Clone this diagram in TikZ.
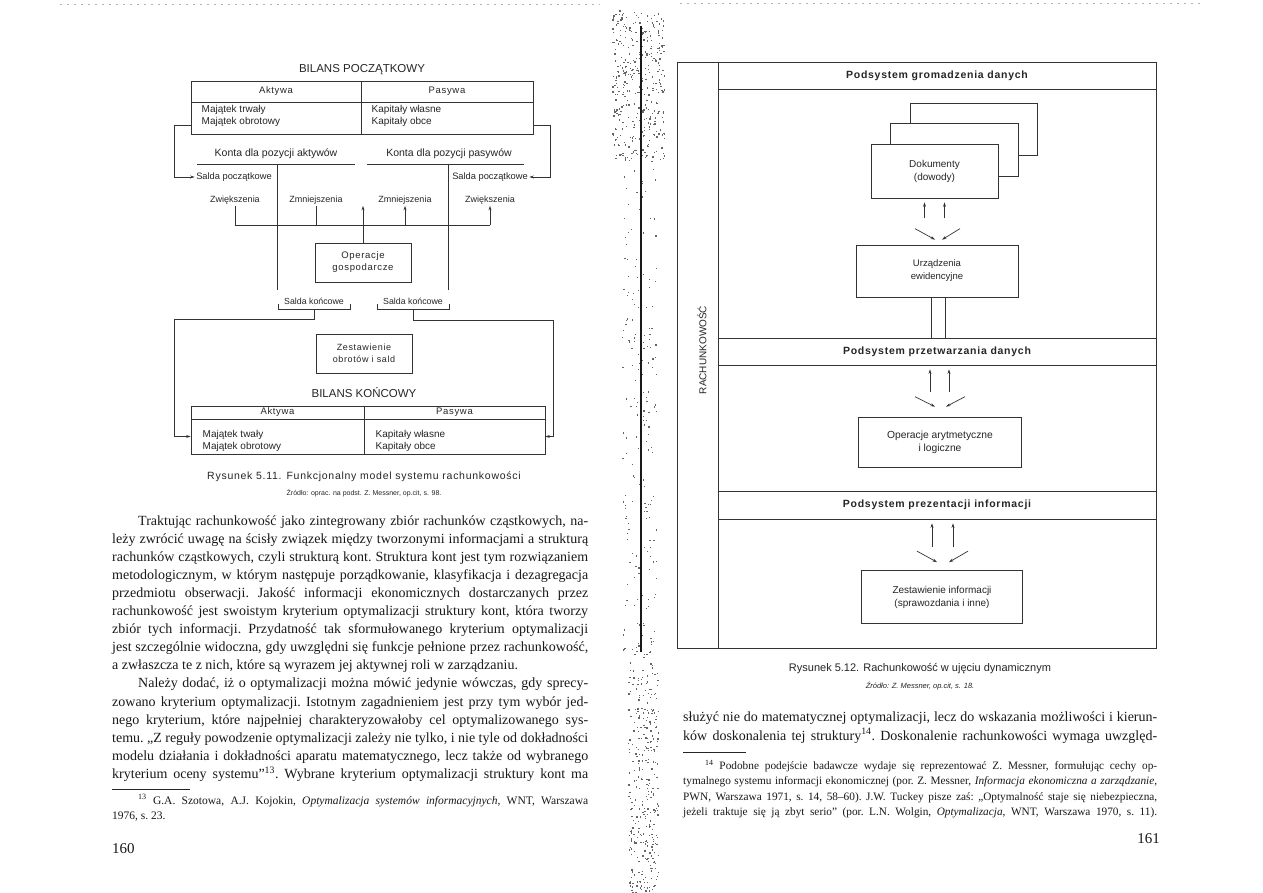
\documentclass[tikz,border=0pt]{standalone}
\usepackage{fontspec}
\setmainfont{Liberation Serif}
\setsansfont{Liberation Sans}
\newfontfamily\spc[LetterSpace=7]{Liberation Sans}
\usetikzlibrary{arrows.meta,calc}
\newcommand\fs[2]{\fontsize{#1}{#2}\selectfont}
\newcommand\JL[1]{\hbox to \hsize{#1}}
\newcommand\LL[1]{\hbox{#1}}
\newcommand\bodyset[2]{\fs{#1}{#2}\frenchspacing\lineskiplimit=-100pt\lineskip=0pt\spaceskip=.25em plus .25em minus .14em\relax}
\tikzset{
  ln/.style={line width=0.7pt, draw=black!80},
  arr/.style={-{Stealth[length=4.5pt,width=3pt]}},
  dt/.style={font=\sffamily\fs{10}{12.5}, text=black!85, inner sep=1.5pt},
  st/.style={font=\sffamily\fs{9}{10}, text=black!85, inner sep=1.5pt},
  hd/.style={font=\spc\fs{9.5}{11}, text=black!85, inner sep=0pt},
  cell/.style={draw=black!80, line width=0.7pt, inner sep=0pt},
  box/.style={draw=black!80, line width=0.7pt, fill=white, align=center, inner sep=0pt, text=black!85},
  band/.style={draw=black!80, line width=0.7pt, minimum width=438, inner sep=0pt, font=\spc\bfseries\fs{10.5}{12}, text=black!85},
  ttl/.style={font=\sffamily\fs{11.5}{13}, text=black!85, inner sep=0pt},
  txt/.style={inner sep=0pt, anchor=base west, text=black!90},
  dot/.style={fill=black!60},
}
\begin{document}
\begin{tikzpicture}[x=1pt,y=-1pt]
\useasboundingbox (0,0) rectangle (1263,893);
\fill[white] (0,0) rectangle (1263,893);

% ---------- scan gutter ----------
\pgfmathsetseed{42}
\foreach \k in {1,...,360}{\pgfmathsetmacro\px{612+52*rnd}\pgfmathsetmacro\py{10+150*rnd}\fill[dot] (\px,\py) rectangle ++(1.3,1.3);}
\foreach \k in {1,...,200}{\pgfmathsetmacro\px{622+34*rnd}\pgfmathsetmacro\py{150+500*rnd}\fill[dot] (\px,\py) rectangle ++(1.2,1.2);}
\foreach \k in {1,...,330}{\pgfmathsetmacro\px{628+30*rnd}\pgfmathsetmacro\py{650+243*rnd}\fill[dot] (\px,\py) rectangle ++(1.3,1.3);}
\draw[line width=2.4pt, black!90] (641,26) -- (641,652);
\draw[black!30, dash pattern=on 2pt off 5pt] (60,4) -- (600,4);
\draw[black!30, dash pattern=on 2pt off 5pt] (680,3) -- (1200,3);

% ---------- left diagram ----------
\node[ttl] (tA) at (362,70) {BILANS POCZĄTKOWY};
\node[cell, minimum width=170, minimum height=21, hd] (bpAh) at (276,91.5) {Aktywa};
\node[cell, minimum width=172, minimum height=21, hd] (bpPh) at (447,91.5) {Pasywa};
\node[cell, minimum width=170, minimum height=32] (bpAb) at (276,118) {};
\node[cell, minimum width=172, minimum height=32] (bpPb) at (447,118) {};
\node[dt, anchor=west, align=left] (bpAt) at (200,116) {Majątek trwały\\Majątek obrotowy};
\node[dt, anchor=west, align=left] (bpPt) at (370,116) {Kapitały własne\\Kapitały obce};

\node[dt, font=\sffamily\fs{10.5}{12}] (kA) at (276,154) {Konta dla pozycji aktywów};
\node[dt, font=\sffamily\fs{10.5}{12}] (kP) at (449,154) {Konta dla pozycji pasywów};
\draw[ln] (197,164) -- (355,164);
\draw[ln] (277,164) -- (277,290);
\draw[ln] (367,164) -- (524,164);
\draw[ln] (448,164) -- (448,290);

\node[st, font=\sffamily\fs{9.3}{10}] (sp1) at (234,177) {Salda początkowe};
\node[st, font=\sffamily\fs{9.3}{10}] (sp2) at (490,177) {Salda początkowe};
\draw[ln,arr] ($(bpAb.west)+(0,7)$) -- ++(-16,0) |- (sp1.west);
\draw[ln,arr] ($(bpPb.east)+(0,7)$) -- ++(17,0) |- (sp2.east);

\node[st] (z1) at (235,200) {Zwiększenia};
\node[st] (m1) at (316,200) {Zmniejszenia};
\node[st] (m2) at (405,200) {Zmniejszenia};
\node[st] (z2) at (490,200) {Zwiększenia};
\coordinate (br) at (0,225);
\draw[ln] (z1.south) -- (z1.south |- br) -- (z2.south |- br);
\draw[ln] (m1.south) -- (m1.south |- br);
\draw[ln,arr] (m2.south |- br) -- (m2.south);
\draw[ln,arr] (z2.south |- br) -- (z2.south);

\node[box, minimum width=96, minimum height=39, font=\spc\fs{9.5}{12}] (op) at (363,262.5) {Operacje\\gospodarcze};
\draw[ln,arr] (op.north) -- (op.north |- z1.south);

\node[st, font=\sffamily\fs{8.8}{10}] (sk1) at (314,301) {Salda końcowe};
\node[st, font=\sffamily\fs{8.8}{10}] (sk2) at (413,301) {Salda końcowe};
\draw[ln] (278,304) -- (278,309) -- (350,309) -- (350,304);
\draw[ln] (377,304) -- (377,309) -- (449,309) -- (449,304);

\node[box, minimum width=96, minimum height=39, font=\spc\fs{9}{12}] (zob) at (364,353.5) {Zestawienie\\obrotów i sald};
\node[ttl] (tB) at (364,393) {BILANS KOŃCOWY};
\node[cell, minimum width=173, minimum height=13, hd] (bkAh) at (277.5,412.5) {Aktywa};
\node[cell, minimum width=181, minimum height=13, hd] (bkPh) at (454.5,412.5) {Pasywa};
\node[cell, minimum width=173, minimum height=35] (bkAb) at (277.5,436.5) {};
\node[cell, minimum width=181, minimum height=35] (bkPb) at (454.5,436.5) {};
\node[dt, anchor=west, align=left] (bkAt) at (201,441) {Majątek twały\\Majątek obrotowy};
\node[dt, anchor=west, align=left] (bkPt) at (374,441) {Kapitały własne\\Kapitały obce};
\draw[ln,arr] (sk1.south |- 0,309) |- (174,319) |- (bkAb.west);
\draw[ln,arr] (sk2.south |- 0,309) |- (553,320) |- (bkPb.east);

\node[inner sep=0pt, font=\spc\fs{10.5}{12}, text=black!85] (cap1) at (364,477) {Rysunek 5.11. Funkcjonalny model systemu rachunkowości};
\node[inner sep=0pt, font=\sffamily\fs{7}{9}, text=black!85] (src1) at (364,493) {Źródło: oprac. na podst. Z. Messner, op.cit, s. 98.};

% ---------- left page text ----------
\node[txt] (lp) at (112,525) {\vtop{\hsize=476pt\bodyset{14}{18.1}%
\JL{\hskip 26pt Traktując rachunkowość jako zintegrowany zbiór rachunków cząstkowych, na-}
\JL{leży zwrócić uwagę na ścisły związek między tworzonymi informacjami a strukturą}
\JL{rachunków cząstkowych, czyli strukturą kont. Struktura kont jest tym rozwiązaniem}
\JL{metodologicznym, w którym następuje porządkowanie, klasyfikacja i dezagregacja}
\JL{przedmiotu obserwacji. Jakość informacji ekonomicznych dostarczanych przez}
\JL{rachunkowość jest swoistym kryterium optymalizacji struktury kont, która tworzy}
\JL{zbiór tych informacji. Przydatność tak sformułowanego kryterium optymalizacji}
\JL{jest szczególnie widoczna, gdy uwzględni się funkcje pełnione przez rachunkowość,}
\LL{a zwłaszcza te z nich, które są wyrazem jej aktywnej roli w zarządzaniu.}
\JL{\hskip 26pt Należy dodać, iż o optymalizacji można mówić jedynie wówczas, gdy sprecy-}
\JL{zowano kryterium optymalizacji. Istotnym zagadnieniem jest przy tym wybór jed-}
\JL{nego kryterium, które najpełniej charakteryzowałoby cel optymalizowanego sys-}
\JL{temu. „Z reguły powodzenie optymalizacji zależy nie tylko, i nie tyle od dokładności}
\JL{modelu działania i dokładności aparatu matematycznego, lecz także od wybranego}
\JL{kryterium oceny systemu”\textsuperscript{13}. Wybrane kryterium optymalizacji struktury kont ma}}};
\draw[line width=0.5pt, black!85] (112,789) -- (190,789);
\node[txt] (fn13) at (112,804) {\vtop{\hsize=476pt\bodyset{11.5}{15.5}%
\JL{\hskip 26pt\textsuperscript{13} G.A. Szotowa, A.J. Kojokin, \textit{Optymalizacja systemów informacyjnych}, WNT, Warszawa}
\LL{1976, s. 23.}}};
\node[txt, font=\fs{15}{18}] (pn160) at (112,853) {160};

% ---------- right diagram ----------
\node[draw=black!80, line width=0.7pt, minimum width=479, minimum height=586, inner sep=0pt] (frame) at (916.5,355) {};
\draw[ln] (718,62) -- (718,648);
\node[rotate=90, inner sep=0pt, font=\sffamily\fs{10}{12}, text=black!85] (rach) at (702,350) {RACHUNKOWOŚĆ};
\node[band, minimum height=27] (b1) at (937,75.5) {Podsystem gromadzenia danych};
\node[band, minimum height=27] (b2) at (937,351.5) {Podsystem przetwarzania danych};
\node[band, minimum height=28] (b3) at (937,505) {Podsystem prezentacji informacji};

\node[box, minimum width=127, minimum height=52] (dk3) at (973.5,129) {};
\node[box, minimum width=128, minimum height=53] (dk2) at (954,149.5) {};
\node[box, minimum width=127, minimum height=54, font=\sffamily\fs{10}{13}] (dk1) at (934.5,171) {Dokumenty\\(dowody)};
\node[box, minimum width=162, minimum height=52, font=\sffamily\fs{9.5}{13}] (ur) at (937,271) {Urządzenia\\ewidencyjne};
\node[box, minimum width=163, minimum height=50, font=\sffamily\fs{10.3}{13}] (op2) at (940,442) {Operacje arytmetyczne\\i logiczne};
\node[box, minimum width=161, minimum height=53, font=\sffamily\fs{10}{13}] (zi) at (942,597) {Zestawienie informacji\\(sprawozdania i inne)};

% arrows set 1
\draw[ln,arr] ($(dk1.south)+(-10,20)$) -- ($(dk1.south)+(-10,4)$);
\draw[ln,arr] ($(dk1.south)+(10,20)$) -- ($(dk1.south)+(10,4)$);
\draw[ln,arr] ($(ur.north)+(-22,-16)$) -- ($(ur.north)+(-2,-5)$);
\draw[ln,arr] ($(ur.north)+(23,-16)$) -- ($(ur.north)+(5,-5)$);
% link to band 2
\draw[ln] ($(ur.south)+(-6,0)$) -- ($(b2.north)+(-6,0)$);
\draw[ln] ($(ur.south)+(8,0)$) -- ($(b2.north)+(8,0)$);
% arrows set 2
\draw[ln,arr] ($(b2.south)+(-7,27)$) -- ($(b2.south)+(-7,4)$);
\draw[ln,arr] ($(b2.south)+(12,27)$) -- ($(b2.south)+(12,4)$);
\draw[ln,arr] ($(op2.north)+(-25,-20)$) -- ($(op2.north)+(-5,-10)$);
\draw[ln,arr] ($(op2.north)+(25,-20)$) -- ($(op2.north)+(6,-10)$);
% arrows set 3
\draw[ln,arr] ($(b3.south)+(-5,28)$) -- ($(b3.south)+(-5,4)$);
\draw[ln,arr] ($(b3.south)+(16,28)$) -- ($(b3.south)+(16,4)$);
\draw[ln,arr] ($(zi.north)+(-25,-19)$) -- ($(zi.north)+(-5,-8)$);
\draw[ln,arr] ($(zi.north)+(26,-19)$) -- ($(zi.north)+(7,-8)$);

\node[inner sep=0pt, font=\sffamily\fs{11}{13}, text=black!85] (cap2) at (920,669) {Rysunek 5.12. Rachunkowość w ujęciu dynamicznym};
\node[inner sep=0pt, font=\sffamily\itshape\fs{7.5}{9}, text=black!85] (src2) at (920,686) {Źródło: Z. Messner, op.cit, s. 18.};

% ---------- right page text ----------
\node[txt] (rp) at (683,721) {\vtop{\hsize=474pt\bodyset{14}{19}%
\JL{służyć nie do matematycznej optymalizacji, lecz do wskazania możliwości i kierun-}
\JL{ków doskonalenia tej struktury\textsuperscript{14}. Doskonalenie rachunkowości wymaga uwzględ-}}};
\draw[line width=0.5pt, black!85] (683,752) -- (746,752);
\node[txt] (fn14) at (683,769) {\vtop{\hsize=474pt\bodyset{11.3}{15.5}%
\JL{\hskip 22pt\textsuperscript{14} Podobne podejście badawcze wydaje się reprezentować Z. Messner, formułując cechy op-}
\JL{tymalnego systemu informacji ekonomicznej (por. Z. Messner, \textit{Informacja ekonomiczna a zarządzanie},}
\JL{PWN, Warszawa 1971, s. 14, 58–60). J.W. Tuckey pisze zaś: „Optymalność staje się niebezpieczna,}
\JL{jeżeli traktuje się ją zbyt serio” (por. L.N. Wolgin, \textit{Optymalizacja}, WNT, Warszawa 1970, s. 11).}}};
\node[txt, anchor=base east, font=\fs{15}{18}] (pn161) at (1160,843) {161};
\end{tikzpicture}
\end{document}
